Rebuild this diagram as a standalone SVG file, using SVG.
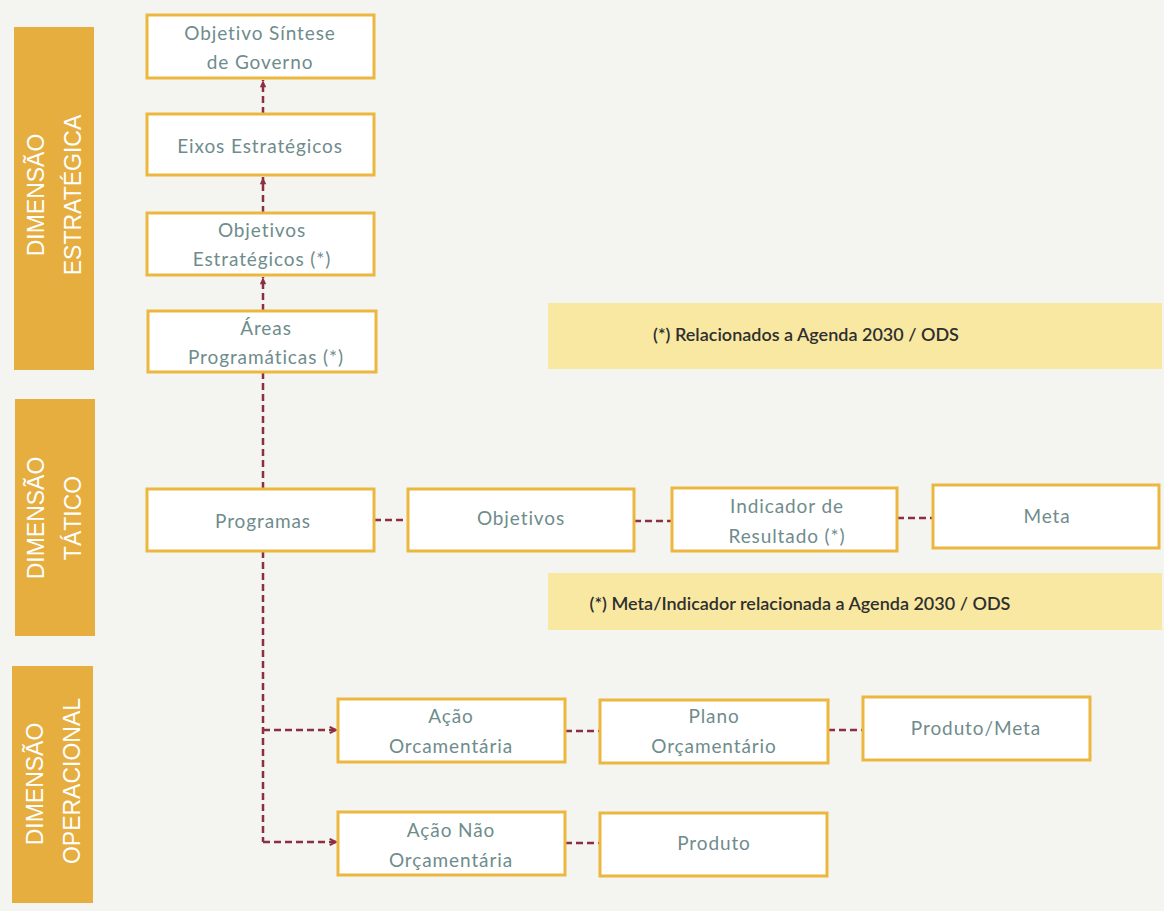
<svg xmlns="http://www.w3.org/2000/svg" width="1164" height="911" viewBox="0 0 1164 911">
<style>
.bg{fill:#f4f4f1}
.band{fill:#e6ad3f}
.bandtxt{fill:#ffffff;font-family:"Liberation Sans",Arial,sans-serif;font-size:23px;font-weight:300;text-anchor:middle}
.box{fill:#ffffff;stroke:#ebb73f;stroke-width:3}
.t{fill:#6f8c8c;font-family:Lato,"Open Sans",sans-serif;font-size:19px;letter-spacing:0.9px;text-anchor:middle}
.note{fill:#f8e8a2}
.nt{fill:#2f2f2f;font-family:Lato,"Open Sans",sans-serif;font-size:18px;font-weight:600;text-anchor:middle}
.c{fill:none;stroke:#8c2f40;stroke-width:2.5;stroke-dasharray:7 4}
</style>
<defs>
<marker id="ah" viewBox="0 0 10 10" refX="9" refY="5" markerWidth="9" markerHeight="9" orient="auto" markerUnits="userSpaceOnUse">
<path d="M2,1.5 L9,5 L2,8.5" fill="none" stroke="#8c2f40" stroke-width="2.2" stroke-linejoin="miter"/>
<path d="M3,5 L9,5" stroke="#8c2f40" stroke-width="2.2"/>
</marker>
<marker id="au" viewBox="0 0 10 10" refX="9" refY="5" markerWidth="9" markerHeight="9" orient="auto" markerUnits="userSpaceOnUse">
<path d="M1,1.5 L9,5 L1,8.5 Z" fill="#8c2f40"/>
</marker>
</defs>
<rect class="bg" x="0" y="0" width="1164" height="911"/>

<g id="band-estrategica">
<rect class="band" x="14" y="27" width="80" height="343"/>
<text class="bandtxt" transform="translate(44,195) rotate(-90)">DIMENSÃO</text>
<text class="bandtxt" transform="translate(81,195) rotate(-90)">ESTRATÉGICA</text>
</g>
<g id="band-tatico">
<rect class="band" x="15" y="399" width="80" height="237"/>
<text class="bandtxt" transform="translate(44,518) rotate(-90)">DIMENSÃO</text>
<text class="bandtxt" transform="translate(81,518) rotate(-90)">TÁTICO</text>
</g>
<g id="band-operacional">
<rect class="band" x="12" y="666" width="81" height="237"/>
<text class="bandtxt" transform="translate(43,784) rotate(-90)">DIMENSÃO</text>
<text class="bandtxt" transform="translate(80,781) rotate(-90)">OPERACIONAL</text>
</g>

<g id="note1">
<rect class="note" x="548" y="303" width="614" height="66"/>
<text class="nt" x="806" y="341">(*) Relacionados a Agenda 2030 / ODS</text>
</g>
<g id="note2">
<rect class="note" x="548" y="573" width="614" height="57"/>
<text class="nt" x="800" y="610">(*) Meta/Indicador relacionada a Agenda 2030 / ODS</text>
</g>

<g id="connectors">
<path class="c" d="M263,114 L263,80" marker-end="url(#au)"/>
<path class="c" d="M263,213 L263,177" marker-end="url(#au)"/>
<path class="c" d="M263,311 L263,277" marker-end="url(#au)"/>
<path class="c" d="M263,372 L263,489"/>
<path class="c" d="M263,551 L263,842"/>
<path class="c" d="M263,730 L336,730" marker-end="url(#ah)"/>
<path class="c" d="M263,842 L336,842" marker-end="url(#ah)"/>
<path class="c" d="M374,520 L408,520"/>
<path class="c" d="M634,521 L672,521"/>
<path class="c" d="M897,518 L933,518"/>
<path class="c" d="M565,731 L600,731"/>
<path class="c" d="M828,730 L863,730"/>
<path class="c" d="M565,843 L600,843"/>
</g>

<g id="n-sintese">
<rect class="box" x="147" y="15" width="227" height="63"/>
<text class="t" x="260" y="40">Objetivo Síntese</text>
<text class="t" x="260" y="69">de Governo</text>
</g>
<g id="n-eixos">
<rect class="box" x="147" y="114" width="227" height="61"/>
<text class="t" x="260" y="153">Eixos Estratégicos</text>
</g>
<g id="n-objestr">
<rect class="box" x="147" y="213" width="227" height="62"/>
<text class="t" x="262" y="237">Objetivos</text>
<text class="t" x="262" y="266">Estratégicos (*)</text>
</g>
<g id="n-areas">
<rect class="box" x="148" y="311" width="228" height="61"/>
<text class="t" x="266" y="335">Áreas</text>
<text class="t" x="266" y="364">Programáticas (*)</text>
</g>
<g id="n-programas">
<rect class="box" x="147" y="489" width="227" height="62"/>
<text class="t" x="263" y="528">Programas</text>
</g>
<g id="n-objetivos">
<rect class="box" x="408" y="489" width="226" height="62"/>
<text class="t" x="521" y="525">Objetivos</text>
</g>
<g id="n-indicador">
<rect class="box" x="672" y="488" width="225" height="63"/>
<text class="t" x="787" y="513">Indicador de</text>
<text class="t" x="787" y="543">Resultado (*)</text>
</g>
<g id="n-meta">
<rect class="box" x="933" y="485" width="226" height="63"/>
<text class="t" x="1047" y="523">Meta</text>
</g>
<g id="n-acao">
<rect class="box" x="338" y="699" width="227" height="63"/>
<text class="t" x="451" y="723">Ação</text>
<text class="t" x="451" y="753">Orcamentária</text>
</g>
<g id="n-plano">
<rect class="box" x="600" y="700" width="228" height="63"/>
<text class="t" x="714" y="723">Plano</text>
<text class="t" x="714" y="753">Orçamentário</text>
</g>
<g id="n-produtometa">
<rect class="box" x="863" y="697" width="227" height="63"/>
<text class="t" x="976" y="735">Produto/Meta</text>
</g>
<g id="n-acaonao">
<rect class="box" x="338" y="812" width="227" height="63"/>
<text class="t" x="451" y="837">Ação Não</text>
<text class="t" x="451" y="867">Orçamentária</text>
</g>
<g id="n-produto">
<rect class="box" x="600" y="813" width="227" height="63"/>
<text class="t" x="714" y="850">Produto</text>
</g>
</svg>
